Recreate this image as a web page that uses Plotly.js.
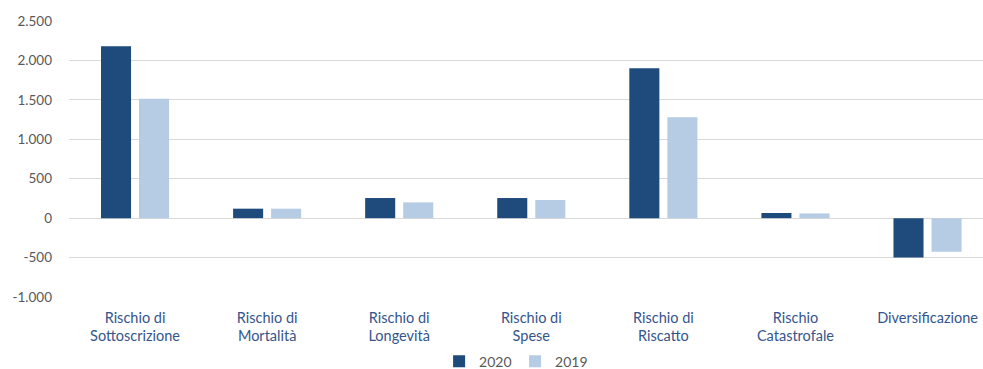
<!DOCTYPE html>
<html>
<head>
<meta charset="utf-8">
<script src="https://cdn.plot.ly/plotly-3.0.1.min.js"></script>
<style>
  html, body { margin: 0; padding: 0; background: #ffffff; overflow: hidden; }
  #chart { width: 983px; height: 369px; }
</style>
</head>
<body>
<div id="chart"></div>
<script>
// Risk module categories (two-line labels)
const categories = [
  "Rischio di<br>Sottoscrizione",
  "Rischio di<br>Mortalità",
  "Rischio di<br>Longevità",
  "Rischio di<br>Spese",
  "Rischio di<br>Riscatto",
  "Rischio<br>Catastrofale",
  "Diversificazione"
];

// Capital requirement by year
const values2020 = [2180, 120, 255, 255, 1900, 65, -500];
const values2019 = [1515, 120, 200, 230, 1280, 60, -425];

// Y axis ticks, Italian number format
const yTickValues = [2500, 2000, 1500, 1000, 500, 0, -500, -1000];
const yTickLabels = ["2.500", "2.000", "1.500", "1.000", "500", "0", "-500", "-1.000"];

const fontFamily = "Lato, 'Open Sans', sans-serif";

const traces = [
  {
    type: "bar",
    name: "2020",
    x: categories,
    y: values2020,
    marker: { color: "#1f4a7c" },
    hoverinfo: "skip"
  },
  {
    type: "bar",
    name: "2019",
    x: categories,
    y: values2019,
    marker: { color: "#b6cbe4" },
    hoverinfo: "skip"
  }
];

const layout = {
  width: 983,
  height: 369,
  margin: { l: 69, r: 0, t: 21, b: 72, autoexpand: false },
  paper_bgcolor: "#ffffff",
  plot_bgcolor: "#ffffff",
  barmode: "group",
  bargap: 0.424,
  bargroupgap: 0.21,
  showlegend: true,
  legend: {
    orientation: "h",
    xref: "container",
    yref: "container",
    x: 0.524,
    xanchor: "center",
    y: 0.02,
    yanchor: "middle",
    font: { family: fontFamily, size: 14, color: "#595959" },
    itemwidth: 30,
    entrywidth: 31,
    tracegroupgap: 0
  },
  xaxis: {
    type: "category",
    range: [-0.5, 6.42],
    showgrid: false,
    zeroline: false,
    showline: false,
    ticks: "",
    ticklabelstandoff: 10,
    tickfont: { family: fontFamily, size: 14.5, color: "#34558c" },
    fixedrange: true
  },
  yaxis: {
    range: [-1000, 2500],
    tickvals: yTickValues,
    ticktext: yTickLabels,
    showgrid: true,
    gridcolor: "#d9d9d9",
    gridwidth: 1,
    zeroline: true,
    zerolinecolor: "#d9d9d9",
    zerolinewidth: 1,
    showline: false,
    ticks: "",
    ticklabelstandoff: 16,
    tickfont: { family: fontFamily, size: 13.5, color: "#595959" },
    fixedrange: true
  }
};

Plotly.newPlot("chart", traces, layout, { displayModeBar: false, staticPlot: true });
</script>
</body>
</html>
